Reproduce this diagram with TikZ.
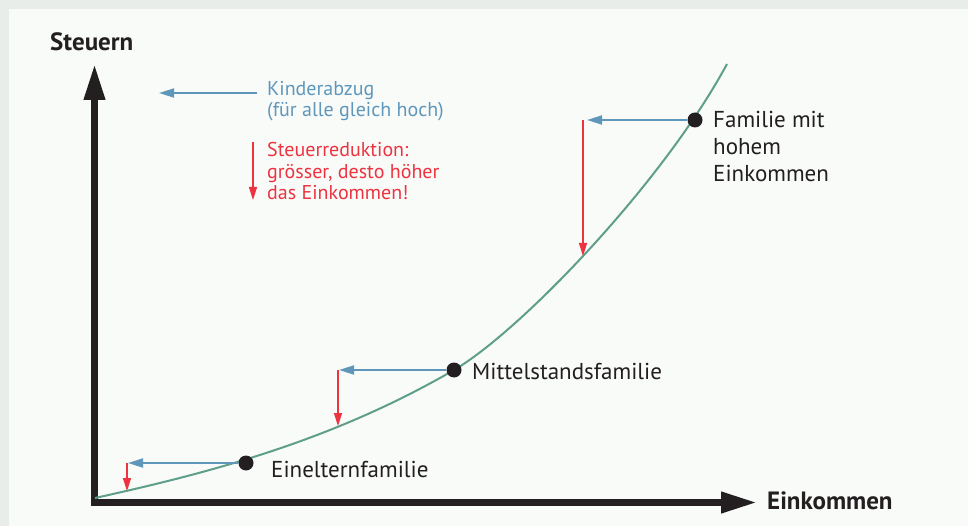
\documentclass[tikz,border=0pt]{standalone}
\usepackage{fontspec}
\setmainfont{PT Sans}
\usetikzlibrary{arrows.meta}
\definecolor{rahmen}{HTML}{E9EDEA}
\definecolor{papier}{HTML}{F9FBF9}
\definecolor{achse}{HTML}{231F20}
\definecolor{kurve}{HTML}{5E9E8A}
\definecolor{abzug}{HTML}{5F97BB}
\definecolor{reduktion}{HTML}{EE3340}
\tikzset{
  achsen/.style={draw=achse, line width=7pt, line join=miter,
    {Triangle[length=36pt,width=20pt]}-{Triangle[length=36pt,width=20pt]}},
  kurvenlinie/.style={draw=kurve, line width=2pt},
  abzugpfeil/.style={draw=abzug, line width=1.8pt, -{Triangle[length=15pt,width=9pt]}},
  redpfeil/.style={draw=reduktion, line width=1.5pt, -{Triangle[length=13pt,width=8pt]}},
  punkt/.style={circle, fill=achse, inner sep=0pt, minimum size=15pt},
  label/.style={anchor=base west, inner sep=0pt, text=achse, align=left,
    font=\fontsize{23}{27}\selectfont},
  achsenlabel/.style={anchor=base west, inner sep=0pt, text=achse,
    font=\fontsize{25}{27}\selectfont\bfseries},
  legende/.style={anchor=base west, inner sep=0pt, align=left,
    font=\fontsize{20}{21.5}\selectfont}
}
\begin{document}
\begin{tikzpicture}[x=1pt,y=-1pt]
\useasboundingbox (0,0) rectangle (968,526);
\fill[rahmen] (0,0) rectangle (968,526);
\fill[papier] (9,9) rectangle (968,526);
% Achsen
\coordinate (O) at (94.5,502.5);
\coordinate (ytip) at (94.5,64);
\coordinate (xtip) at (757,502.5);
\draw[achsen] (ytip) |- (xtip);
\node[achsenlabel] (steuern) at (50,51) {Steuern};
\node[achsenlabel] (einkommen) at (767,509) {Einkommen};
% Steuerkurve
\coordinate (kstart) at (95,498);
\coordinate (kmitte) at (454,370);
\coordinate (kende) at (727,64);
\draw[kurvenlinie] (kstart) .. controls (215,471.6) and (334,439.6) .. (kmitte)
  .. controls (519,332.3) and (662,184.3) .. (kende);
% Legende
\coordinate (legA) at (257,93);
\coordinate (legB) at (159,93);
\draw[abzugpfeil] (legA) -- (legB);
\node[legende, text=abzug] (kinder) at (267,117) {Kinderabzug\\(für alle gleich hoch)};
\coordinate (legC) at (253,142);
\coordinate (legD) at (253,200);
\draw[redpfeil] (legC) -- (legD);
\node[legende, text=reduktion] (reduk) at (267,200) {Steuerreduktion:\\grösser, desto höher\\das Einkommen!};
% Familien
\node[punkt] (hoch) at (695,120) {};
\node[punkt] (mittel) at (kmitte) {};
\node[punkt] (einel) at (246,463) {};
\coordinate (hochK) at (587,120);
\coordinate (mittelK) at (339,370);
\coordinate (einelK) at (128,463);
\draw[abzugpfeil] (hoch) -- (hochK);
\draw[abzugpfeil] (mittel) -- (mittelK);
\draw[abzugpfeil] (einel) -- (einelK);
\coordinate (hochA) at (583,120);
\coordinate (hochB) at (583,256);
\coordinate (mittelA) at (338,370);
\coordinate (mittelB) at (338,426);
\coordinate (einelA) at (127,463);
\coordinate (einelB) at (127,491);
\draw[redpfeil] (hochA) -- (hochB);
\draw[redpfeil] (mittelA) -- (mittelB);
\draw[redpfeil] (einelA) -- (einelB);
\node[label] (hochtxt) at (713,182) {Familie mit\\hohem\\Einkommen};
\node[label] (mitteltxt) at (472,379) {Mittelstandsfamilie};
\node[label] (eineltxt) at (271,477) {Einelternfamilie};
\end{tikzpicture}
\end{document}
